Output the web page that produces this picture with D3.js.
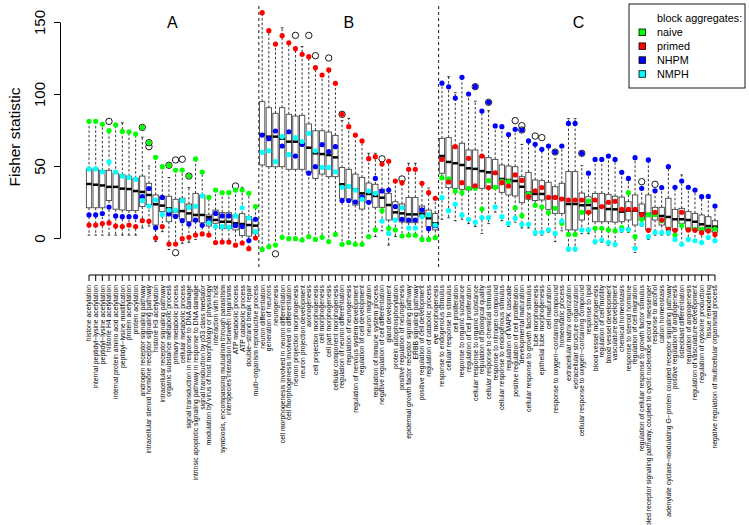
<!DOCTYPE html>
<html>
<head>
<meta charset="utf-8">
<script src="https://cdn.jsdelivr.net/npm/d3@7"></script>
<style>
  body { margin: 0; background: #fff; }
  svg { font-family: "Liberation Sans", Arial, sans-serif; }
</style>
</head>
<body>
<div id="chart-container"></div>
<script>
//
// data
//
var labels = [
  // A
  "histone acetylation", "internal peptidyl\u2212lysine acetylation", "peptidyl\u2212lysine acetylation",
  "histone H4 acetylation", "internal protein amino acid acetylation", "peptidyl\u2212lysine modification",
  "protein acetylation", "protein acylation", "androgen receptor signaling pathway",
  "intracellular steroid hormone receptor signaling pathway", "histone H3 acetylation",
  "intracellular receptor signaling pathway", "organic substance metabolic process",
  "primary metabolic process", "cellular metabolic process", "signal transduction in response to DNA damage",
  "intrinsic apoptotic signaling pathway in response to DNA damage", "signal transduction by p53 class mediator",
  "modulation by virus of host morphology or physiology", "interaction with host",
  "symbiosis, encompassing mutualism through parasitism", "interspecies interaction between organisms",
  "ATP metabolic process", "ATP catabolic process", "double\u2212strand break repair",
  "multi\u2212organism reproductive process",
  // B
  "neuron differentiation", "generation of neurons", "neurogenesis",
  "cell morphogenesis involved in neuron differentiation", "cell morphogenesis involved in differentiation",
  "neuron projection morphogenesis", "neuron projection development", "axonogenesis",
  "cell projection morphogenesis", "cell morphogenesis", "cell part morphogenesis",
  "cellular component morphogenesis", "regulation of neuron differentiation", "regulation of neurogenesis",
  "regulation of nervous system development", "regulation of cell development", "neuron migration",
  "regulation of immune system process", "negative regulation of cell differentiation", "gland development",
  "protein autophosphorylation", "positive regulation of neurogenesis",
  "epidermal growth factor receptor signaling pathway", "ERBB signaling pathway",
  "positive regulation of cell development", "regulation of catabolic process", "eye morphogenesis",
  // C
  "response to endogenous stimulus", "cellular response to stimulus", "cell proliferation",
  "response to organic substance", "regulation of cell proliferation", "cellular response to organic substance",
  "regulation of biological quality", "cellular response to chemical stimulus", "response to nitrogen compound",
  "cellular response to endogenous stimulus", "regulation of MAPK cascade",
  "positive regulation of cell proliferation", "developmental maturation",
  "cellular response to growth factor stimulus", "tube morphogenesis", "epithelial tube morphogenesis",
  "cell maturation", "response to oxygen\u2212containing compound", "homeostatic process",
  "extracellular matrix organization", "extracellular structure organization",
  "cellular response to oxygen\u2212containing compound", "response to lipid", "blood vessel morphogenesis",
  "regulation of cell motility", "blood vessel development", "vasculature development",
  "chemical homeostasis", "response to steroid hormone", "regulation of cell migration",
  "regulation of cellular response to growth factor stimulus",
  "G\u2212protein coupled receptor signaling pathway, coupled to cyclic nucleotide second messenger",
  "response to alcohol", "cation homeostasis",
  "adenylate cyclase\u2212modulating G\u2212protein coupled receptor signaling pathway",
  "positive regulation of angiogenesis", "osteoblast differentiation", "regulation of angiogenesis",
  "regulation of vasculature development", "regulation of cytokine production", "tissue remodeling",
  "negative regulation of multicellular organismal process"
];

var groupNames = ["A", "B", "C"];
var groupSizes = [26, 27, 42];

// box statistics
var q1 = [
  21, 21, 21, 26, 20, 19.5, 19, 19, 21.8, 23, 9, 18.3, 11.3, 14.8, 13, 11.3, 11.3, 10.6, 8.3, 10.2, 6.5, 6.5, 5.6, 1.8, 1.3, 3,
  50.7, 49.5, 49.5, 49.5, 47.7, 47.7, 47.7, 45.4, 41.4, 44.4, 42.6, 42.6, 27.6, 26.4, 22.9, 20.1, 24.5, 21.3, 21.3, 12.5, 12.5, 11.1, 10.6, 10.6, 14.8, 8, 5.6,
  45, 35, 34.5, 33.8, 33.3, 34.5, 34.5, 34.5, 34.5, 31.7, 29.9, 29.2, 24.5, 26.9, 26, 26.4, 19.9, 17.1, 17.1, 5.6, 5.6,
  12.5, 17.1, 11.3, 11.3, 11.3, 11, 11.3, 12.5, 9, 12.5, 5.6, 12.5, 9, 7.2, 5.3, 10.2, 5.6, 5.3, 5, 4.4, 4
];
var med = [
  37.5, 37, 36.5, 35.5, 35.5, 34.3, 34, 32.6, 32, 29.9, 23.4, 22.5, 20.6, 18.7, 18.7, 17.1, 16, 16, 14.4, 12.5, 11.3, 11.3, 10.2, 9.7, 9, 8.6,
  72, 70.4, 70.4, 69, 66.9, 66.9, 65.3, 62.7, 58.8, 58.3, 57.6, 56, 37.3, 36, 33.8, 31, 30.6, 29.2, 28, 22.9, 17.8, 17.1, 16.4, 16.4, 16.9, 13.7, 10.2,
  56.9, 52.8, 51.9, 50.7, 48.4, 48, 46.5, 45.6, 45, 41, 40.3, 39.6, 35.6, 31.5, 30.6, 30.6, 28.2, 28.2, 27.1, 23.6, 23.6,
  22.7, 22.9, 20.6, 21.8, 20.1, 19.9, 18.3, 19, 19, 17.1, 16.7, 17.1, 15.3, 14.6, 13, 13, 12.5, 11.3, 9.5, 8.3, 7.9
];
var q3 = [
  48, 48, 47, 47, 45, 44, 43, 41.5, 43, 38, 29.9, 29, 29, 26.9, 27.6, 23.6, 31, 29.9, 16, 19.4, 17.6, 17.6, 16, 16.9, 14.8, 13,
  94.7, 90.5, 86.6, 90.5, 85.9, 84.7, 85.2, 79.2, 74.5, 74.5, 73.6, 71.3, 48.9, 47.7, 44.4, 42.1, 38.2, 37.3, 33.8, 31, 25.2, 23.6, 28.2, 28.2, 22.2, 19.4, 17.1,
  69.2, 69.7, 63.9, 65.8, 61.1, 61.1, 56.9, 55.8, 54.6, 50.7, 50, 49.5, 42.6, 45.6, 40.3, 39.8, 38.7, 35.6, 38, 46.1, 46.1,
  31.2, 28.7, 31, 31, 30.3, 29, 28.4, 25.2, 29.9, 23.6, 29.9, 21.3, 21.3, 27.6, 19.9, 20.6, 18.3, 17.1, 16, 14.8, 12
];
var whiskLo = [
  2, 2, 2, 2, 2, 2, 2, 2, 7, 8.3, -2.5, 4.4, -8, -4.2, -3.7, -3, -1, 2, 1, -4, -3.5, -3.5, -5, -3.5, -7.4, 0,
  -7.9, -6, -4.9, 0.5, -0.5, -0.5, -1.4, 0.9, -1, 0.5, -2.5, 2.5, -4.4, -3.2, -4.4, -4.4, 0.9, 1, 5, -4.9, 1, 1.4, 1.9, 1.9, -2, -1, 0.2,
  13, 14, 12, 13, 10, 8, 3.2, 10, 18, 12, 8, 11, 7, 7, 2, 2, 4, -2.5, 5, -9, -9,
  3, 3, -4, -3, -5, -6, 4, 4, -10, 8, -1, 2, 2, 2, -2, -5, -2, -3, -4, -1, -3
];
var whiskHi = [
  81, 81, 79, 74.5, 78.5, 80, 73.8, 72.2, 70, 50, 56, 49.5, 42, 47.2, 47.2, 35, 54.9, 45.8, 28.2, 33.3, 31.5, 31.5, 33.3, 35.2, 31, 21.8,
  156.5, 144, 134.7, 146, 135.6, 131.5, 132.9, 125.9, 118.3, 113.2, 116.7, 107.4, 81.5, 83.1, 71.5, 67.4, 58.8, 58.8, 51.4, 53.3, 39.6, 38.4, 51.9, 51.9, 38, 34.7, 27.6,
  107.5, 112, 100.9, 111.6, 100, 95, 88.2, 88.4, 77.8, 77.3, 71.8, 75.5, 65, 67.4, 65.1, 61.6, 63.9, 55, 63.9, 82.9, 82.9,
  50.2, 45, 54.6, 54.6, 56.9, 54.6, 45.6, 41.4, 55.8, 34.5, 54.2, 32.8, 35, 49.5, 35.2, 43.8, 35.2, 33.3, 28.7, 28.9, 22.2
];
// [category index, value]
var outliers = [
  [3, 81], [8, 76.8], [9, 66.2], [9, 63.4], [12, 50.5], [13, 54.2], [13, -10.2], [14, 54.7], [15, 43], [22, 36.1],
  [28, -11], [31, 140.7], [33, 140.7], [34, 126.6], [36, 125], [38, 85.9], [44, 55], [47, 41],
  [58, 105.1], [60, 94.2], [64, 81.5], [65, 78], [65, 75], [67, 70.8], [68, 69.7], [70, 59.7], [74, 58.8], [83, 39.1], [85, 37.3]
];

// block aggregates
var naive = [
  81, 81, 79, 74.5, 78.5, 74, 73.8, 72.2, 76.8, 66.2, 56, 49.5, 50.5, 47.2, 47.2, 43, 54.9, 45.8, 28.2, 33.3, 31.5, 31.5, 33.3, 33.3, 31, 21.8,
  -7.9, -6, -4.9, 0.5, -0.5, -0.5, -1.4, 0.9, -1, 0.5, -2.5, 2.5, -4.4, -3.2, -4.4, -4.4, 0.9, 5.6, 19, 6.7, 5.6, 1.4, 1.9, 1.9, -1, -1, 0.2,
  41.9, 41, 32.6, 31.5, 34.5, 34.5, 20.1, 39.8, 35.2, 39.4, 39.1, 21, 15.5, 30.6, 22.7, 21.5, 17.6, 20.6, 10.2, 2.5, 2.5,
  17.8, 25.7, 6.7, 6.7, 5.6, 5, 7.2, 31.5, 0.9, 13, 16, 16.2, 12, 6, 2.1, 8.6, 6, 6, 6, 6, 6.2
];
var primed = [
  9, 9, 10, 10.5, 8.3, 8, 9, 8, 12, 11.6, 0, 7.9, -4.2, -4.2, -0.5, 0.5, 2, 2.8, 2, -3.2, -2.8, -2.8, -5, -3.5, -7.4, 0,
  156.5, 144, 134.7, 140.5, 135.6, 131.5, 127.6, 125.9, 118.3, 113.2, 116.7, 107.4, 85.9, 77.3, 71.5, 67.4, 55.1, 56.5, 51.4, 53.3, 39.6, 38.4, 47.7, 47.7, 38, 31.5, 27.6,
  54.6, 38.9, 63.4, 38.4, 55.3, 36.3, 56.9, 35, 45.3, 38.4, 36.1, 43.8, 40, 28.7, 32.8, 35, 28.2, 28.2, 27.1, 26.4, 26.4,
  26.4, 17.8, 26.4, 21.8, 24.8, 25.5, 19.9, 19.9, 19.9, 16.2, 5.3, 17.8, 12.5, 6, 5.3, 17.8, 5.6, 5.3, 3.7, 5, 2.5
];
var nhpm = [
  16, 16, 17, 21.5, 15.3, 14.8, 14.8, 14.8, 28.7, 34.3, 7.2, 28.2, 16.7, 15, 12, 9.7, 12.5, 8.8, 12, 17.1, 15.3, 15.3, 8.6, 7.9, -1.8, 13,
  71.5, 69, 74.3, 63.9, 73.8, 56.9, 65, 45, 49.5, 64.8, 60, 63.4, 26, 26, 25, 28.4, 24.8, 41.4, 32.6, 33.3, 21.8, 13, 12.5, 12.5, 19.6, 6.5, 8.5,
  107.5, 105, 97.2, 111.6, 100, 105.1, 88.2, 94.2, 77.8, 77.3, 71.8, 75.5, 75, 67.4, 65.1, 61.6, 63.9, 59.7, 63.9, 79.6, 79.6,
  58.8, 45, 54.6, 54.6, 56.9, 54.6, 45.6, 41.4, 55.8, 34.5, 54.2, 32.8, 35, 49.5, 35.2, 39.6, 35.2, 33.3, 28.7, 28.9, 22.2
];
var nmph = [
  48, 48, 46, 52.8, 45.8, 43, 42, 40.7, 25.9, 22.2, 26.4, 16.4, 19.4, 19.4, 25.9, 21.3, 22, 29.2, 10.6, 7.9, 7.9, 7.5, 15.3, 21, 13.9, 4.4,
  59.5, 60.6, 53, 70.4, 57.9, 69.7, 67, 72.7, 60.6, 49, 49, 46, 35.2, 35.8, 33.3, 26.9, 32.6, 31, 11.8, 3.2, 12.5, 21, 6.9, 6.9, 14.8, 16, 9,
  28, 19, 23.4, 16, 13, 10.9, 14.1, 14.1, 21.5, 14.8, 10.2, 13.8, 9.5, 9.5, 3.7, 4, 5.6, 3.2, 11.8, -7.6, -7.6,
  5.6, 5.6, -2.5, -1.4, -3.2, -4.4, 5.6, 6, -7.2, 9.5, 0.9, 4, 3.7, 3.7, -1, -4.4, -1, -1.9, -3.2, 0.5, -1.9
];

var seriesNames = ["naive", "primed", "NHPM", "NMPH"];
var seriesColors = ["#00ff00", "#ff0000", "#0000ff", "#00ffff"];
var seriesValues = [naive, primed, nhpm, nmph];
var yTicks = [0, 50, 100, 150];


function drawFisherChart(){

  //
  // setup / initialization
  //
  var width = 749,
      height = 525,
      axisY = 275,
      axisX = 60;

  var svg = d3.select("div#chart-container")
      .append("svg")
      .attr("width", width)
      .attr("height", height);

  svg.append("rect")
    .attr("width", width)
    .attr("height", height)
    .attr("fill", "#fff");

  var x = d3.scaleBand()
      .domain(d3.range(labels.length))
      .range([85.7, 718.3]);

  var y = d3.scaleLinear()
      .domain([0, 150])
      .range([238, 22]);

  var bw = x.bandwidth() * 0.8;
  function cx(i){ return x(i) + x.bandwidth() / 2; }

  // y-axis
  var yAxis = svg.append("g")
      .attr("transform", "translate(" + axisX + ",0)")
      .call(d3.axisLeft(y).tickValues(yTicks).tickSize(6).tickSizeOuter(0));
  yAxis.selectAll("text")
    .attr("x", null)
    .attr("dy", "0.35em")
    .attr("transform", "translate(-20,0) rotate(-90)")
    .style("text-anchor", "middle")
    .style("font-size", "15px")
    .style("font-family", "Liberation Sans, Arial, sans-serif")
    .attr("fill", "#000");
  svg.append("text")
    .attr("transform", "translate(15,137) rotate(-90)")
    .attr("dy", "0.35em")
    .style("text-anchor", "middle")
    .style("font-size", "15.5px")
    .text("Fisher statistic");

  // x-axis with rotated labels
  var xAxis = svg.append("g")
      .attr("transform", "translate(0," + axisY + ")")
      .call(d3.axisBottom(x).tickSize(6).tickSizeOuter(0)
            .tickFormat(function(i){ return labels[i]; }));
  xAxis.select(".domain").remove();
  xAxis.append("line")
    .attr("x1", cx(0))
    .attr("x2", cx(labels.length - 1))
    .attr("stroke", "#000");
  xAxis.selectAll("text")
    .attr("y", 0)
    .attr("x", -10)
    .attr("dy", "0.35em")
    .attr("transform", "rotate(-90)")
    .style("text-anchor", "end")
    .style("font-size", "6.8px")
    .style("font-family", "Liberation Sans, Arial, sans-serif")
    .attr("fill", "#000");

  // group separators and letters
  var bounds = [0].concat(Array.from(d3.cumsum(groupSizes)));
  bounds.slice(1, -1).forEach(function(b){
    svg.append("line")
      .attr("x1", x(b)).attr("x2", x(b))
      .attr("y1", 6).attr("y2", 268)
      .attr("stroke", "#000")
      .attr("stroke-width", 0.9)
      .attr("stroke-dasharray", "3,3");
  });
  groupNames.forEach(function(g, k){
    var left = x(bounds[k]),
        right = x(bounds[k + 1] - 1) + x.bandwidth();
    svg.append("text")
      .attr("x", (left + right) / 2)
      .attr("y", 28)
      .style("text-anchor", "middle")
      .style("font-size", "16px")
      .text(g);
  });

  //
  // boxplots
  //
  var idx = d3.range(labels.length);
  var plot = svg.append("g");

  // whiskers
  plot.selectAll("line.whisk-hi").data(idx).enter().append("line")
    .attr("x1", cx).attr("x2", cx)
    .attr("y1", function(i){ return y(q3[i]); })
    .attr("y2", function(i){ return y(whiskHi[i]); })
    .attr("stroke", "#000").attr("stroke-width", 0.8).attr("stroke-dasharray", "2.5,2");
  plot.selectAll("line.whisk-lo").data(idx).enter().append("line")
    .attr("x1", cx).attr("x2", cx)
    .attr("y1", function(i){ return y(q1[i]); })
    .attr("y2", function(i){ return y(whiskLo[i]); })
    .attr("stroke", "#000").attr("stroke-width", 0.8).attr("stroke-dasharray", "2.5,2");

  // staples
  [whiskHi, whiskLo].forEach(function(arr){
    plot.append("g").selectAll("line").data(idx).enter().append("line")
      .attr("x1", function(i){ return cx(i) - bw / 4; })
      .attr("x2", function(i){ return cx(i) + bw / 4; })
      .attr("y1", function(i){ return y(arr[i]); })
      .attr("y2", function(i){ return y(arr[i]); })
      .attr("stroke", "#000").attr("stroke-width", 0.8);
  });

  // boxes
  plot.append("g").selectAll("rect").data(idx).enter().append("rect")
    .attr("x", function(i){ return cx(i) - bw / 2; })
    .attr("y", function(i){ return y(q3[i]); })
    .attr("width", bw)
    .attr("height", function(i){ return y(q1[i]) - y(q3[i]); })
    .attr("fill", "#fff")
    .attr("stroke", "#444")
    .attr("stroke-width", 0.9);

  // medians
  plot.append("g").selectAll("line").data(idx).enter().append("line")
    .attr("x1", function(i){ return cx(i) - bw / 2; })
    .attr("x2", function(i){ return cx(i) + bw / 2; })
    .attr("y1", function(i){ return y(med[i]); })
    .attr("y2", function(i){ return y(med[i]); })
    .attr("stroke", "#000").attr("stroke-width", 2.5);

  // outliers
  plot.append("g").selectAll("circle").data(outliers).enter().append("circle")
    .attr("cx", function(d){ return cx(d[0]); })
    .attr("cy", function(d){ return y(d[1]); })
    .attr("r", 3.2)
    .attr("fill", "none")
    .attr("stroke", "#000")
    .attr("stroke-width", 0.9);

  //
  // block aggregate points
  //
  seriesValues.forEach(function(vals, s){
    plot.append("g").selectAll("circle").data(idx).enter().append("circle")
      .attr("cx", cx)
      .attr("cy", function(i){ return y(vals[i]); })
      .attr("r", 2.6)
      .attr("fill", seriesColors[s]);
  });

  //
  // legend
  //
  var legend = svg.append("g");
  legend.append("rect")
    .attr("x", 629).attr("y", 4)
    .attr("width", 116).attr("height", 84)
    .attr("fill", "#fff")
    .attr("stroke", "#000")
    .attr("stroke-width", 0.9);
  legend.append("text")
    .attr("x", 657).attr("y", 22)
    .style("font-size", "10.8px")
    .text("block aggregates:");
  seriesNames.forEach(function(name, s){
    var yy = 32.3 + s * 13.9;
    legend.append("rect")
      .attr("x", 639).attr("y", yy - 3.3)
      .attr("width", 6.6).attr("height", 6.6)
      .attr("fill", seriesColors[s])
      .attr("stroke", "#000")
      .attr("stroke-width", 0.8);
    legend.append("text")
      .attr("x", 657).attr("y", yy + 3.8)
      .style("font-size", "10.8px")
      .text(name);
  });
}

drawFisherChart();
</script>
</body>
</html>
